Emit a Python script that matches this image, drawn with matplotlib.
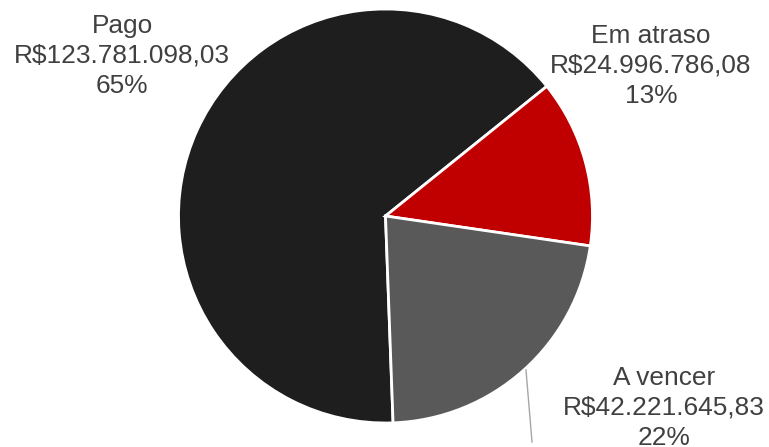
import matplotlib
matplotlib.use("Agg")
import matplotlib.pyplot as plt

categories = ["Pago", "Em atraso", "A vencer"]
values = [123781098.03, 24996786.08, 42221645.83]
value_labels = ["R$123.781.098,03", "R$24.996.786,08", "R$42.221.645,83"]
colors = ["#1e1e1e", "#c00000", "#595959"]

W, H = 769, 447
fig = plt.figure(figsize=(W / 100, H / 100), dpi=100)
ax = fig.add_axes([0, 0, 1, 1])

# pie geometry in pixels: centre and radius
cx, cy, r = 385.5, 216.0, 207.0

total = sum(values)
ax.pie(values, colors=colors, startangle=272.1, counterclock=False,
       radius=1.0, center=(0, 0), frame=False,
       wedgeprops=dict(edgecolor="white", linewidth=2.0))
ax.set_xlim((0 - cx) / r, (W - cx) / r)
ax.set_ylim((cy - H) / r, (cy - 0) / r)
ax.set_aspect("auto")
ax.axis("off")


def px(x, y):
    return (x - cx) / r, (cy - y) / r


label_pos = [px(122, 56), px(651, 66), px(664, 408)]
for name, vl, v, (lx, ly) in zip(categories, value_labels, values, label_pos):
    pct = f"{round(100 * v / total):d}%"
    ax.text(lx, ly, f"{name}\n{vl}\n{pct}", ha="center", va="center",
            fontsize=18.9, family="Liberation Sans", color="#404040",
            linespacing=1.3)

# leader line for the lower label
x0, y0 = px(526, 370)
x1, y1 = px(532, 442)
ax.plot([x0, x1], [y0, y1], color="#a6a6a6", linewidth=1.0)

fig.savefig("out.png", dpi=100)
